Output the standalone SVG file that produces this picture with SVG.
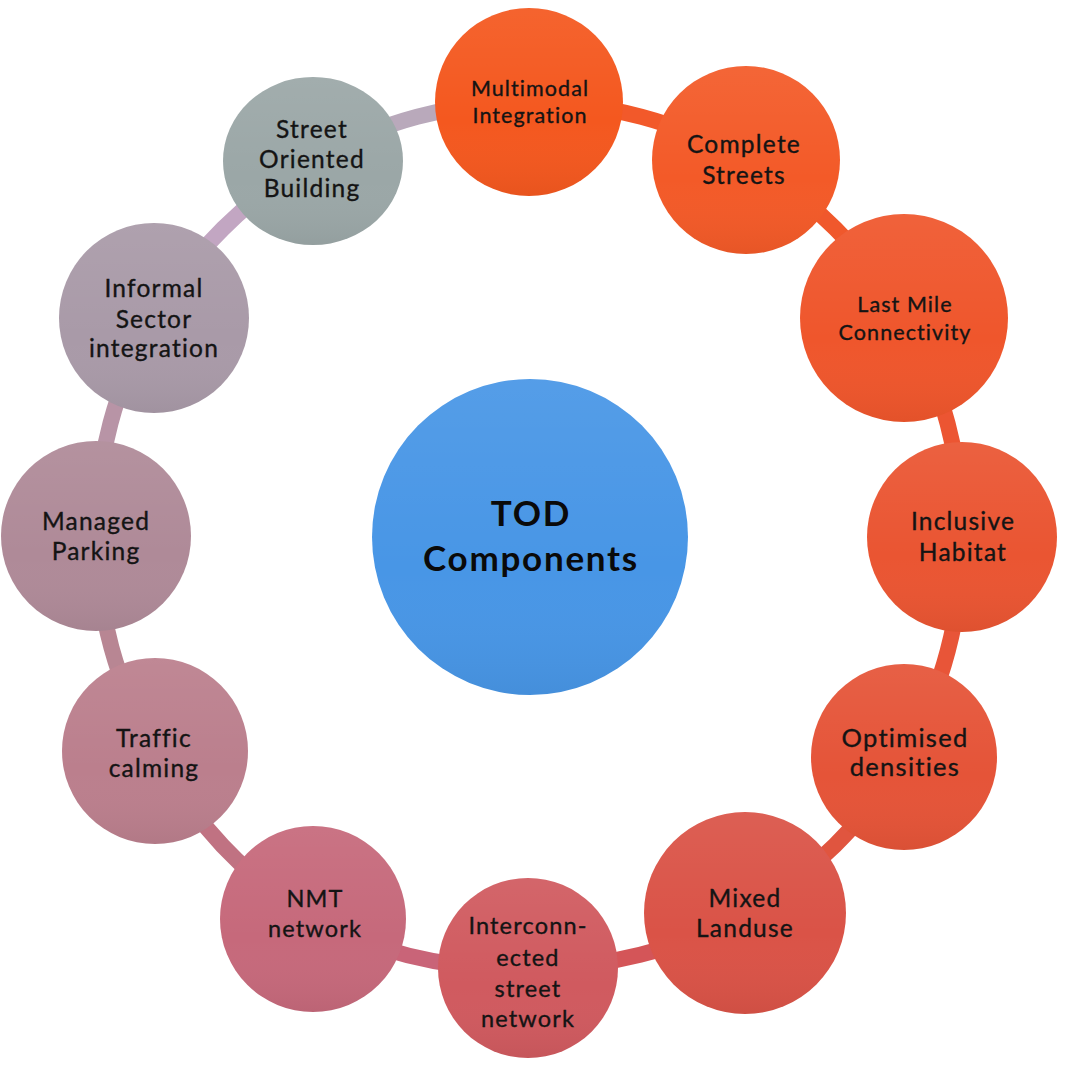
<svg xmlns="http://www.w3.org/2000/svg" width="1067" height="1067" viewBox="0 0 1067 1067">
  <defs>
    <linearGradient id="shade" x1="0" y1="0" x2="0" y2="1">
      <stop offset="0" stop-color="#ffffff" stop-opacity="0.07"/>
      <stop offset="0.6" stop-color="#ffffff" stop-opacity="0"/>
      <stop offset="1" stop-color="#000000" stop-opacity="0.05"/>
    </linearGradient>
    <style>
      .lbl { font-family: Lato, "Open Sans", "Liberation Sans", sans-serif; fill: #141414; stroke: #141414; stroke-width: 0.35; text-anchor: middle; letter-spacing: 0.05em; }
      .center { font-family: Lato, "Open Sans", "Liberation Sans", sans-serif; font-weight: bold; fill: #0a0a0a; text-anchor: middle; font-size: 35px; letter-spacing: 0.05em; }
      .link { fill: none; stroke-width: 16; stroke-linecap: butt; }
      .ov { fill: url(#shade); }
    </style>
  </defs>
  <rect width="1067" height="1067" fill="#ffffff"/>

  <g id="connectors">
    <path class="link" stroke="#F2592A" d="M529 102 A432 432 0 0 1 746 160"/>
    <path class="link" stroke="#F0582C" d="M746 160 A432 432 0 0 1 904 318"/>
    <path class="link" stroke="#EC5532" d="M904 318 A432 432 0 0 1 962 537"/>
    <path class="link" stroke="#E85538" d="M962 537 A432 432 0 0 1 904 757"/>
    <path class="link" stroke="#E0553F" d="M904 757 A432 432 0 0 1 745 913"/>
    <path class="link" stroke="#D45558" d="M745 913 A432 432 0 0 1 528 968"/>
    <path class="link" stroke="#C96478" d="M528 968 A432 432 0 0 1 313 919"/>
    <path class="link" stroke="#C07282" d="M313 919 A432 432 0 0 1 155 751"/>
    <path class="link" stroke="#B88693" d="M155 751 A432 432 0 0 1 96 536"/>
    <path class="link" stroke="#B894A6" d="M96 536 A432 432 0 0 1 154 318"/>
    <path class="link" stroke="#C2A6C2" d="M154 318 A432 432 0 0 1 313 160"/>
    <path class="link" stroke="#B9A9BB" d="M313 160 A432 432 0 0 1 529 102"/>
  </g>

  <g id="center-node">
    <circle cx="530" cy="537" r="158" fill="#4896E6"/>
    <circle cx="530" cy="537" r="158" class="ov"/>
    <text class="center" x="531" y="526">TOD</text>
    <text class="center" x="531" y="571">Components</text>
  </g>

  <g id="n-multimodal">
    <circle cx="529" cy="102" r="94" fill="#F4581F"/>
    <circle cx="529" cy="102" r="94" class="ov"/>
    <text class="lbl" font-size="21.5" x="530" y="96">Multimodal</text>
    <text class="lbl" font-size="21.5" x="530" y="123">Integration</text>
  </g>

  <g id="n-complete-streets">
    <circle cx="746" cy="160" r="94" fill="#F35A28"/>
    <circle cx="746" cy="160" r="94" class="ov"/>
    <text class="lbl" font-size="24.5" x="744" y="153">Complete</text>
    <text class="lbl" font-size="24.5" x="744" y="184">Streets</text>
  </g>

  <g id="n-last-mile">
    <circle cx="904" cy="318" r="104" fill="#EF562C"/>
    <circle cx="904" cy="318" r="104" class="ov"/>
    <text class="lbl" font-size="21.5" x="905" y="312">Last Mile</text>
    <text class="lbl" font-size="21.5" x="905" y="340">Connectivity</text>
  </g>

  <g id="n-inclusive-habitat">
    <circle cx="962" cy="537" r="95" fill="#EA5532"/>
    <circle cx="962" cy="537" r="95" class="ov"/>
    <text class="lbl" font-size="24.5" x="963" y="530">Inclusive</text>
    <text class="lbl" font-size="24.5" x="963" y="561">Habitat</text>
  </g>

  <g id="n-optimised-densities">
    <circle cx="904" cy="757" r="93" fill="#E55438"/>
    <circle cx="904" cy="757" r="93" class="ov"/>
    <text class="lbl" font-size="25.5" x="905" y="747">Optimised</text>
    <text class="lbl" font-size="25.5" x="905" y="776">densities</text>
  </g>

  <g id="n-mixed-landuse">
    <circle cx="745" cy="913" r="101" fill="#DA5347"/>
    <circle cx="745" cy="913" r="101" class="ov"/>
    <text class="lbl" font-size="24.5" x="745" y="907">Mixed</text>
    <text class="lbl" font-size="24.5" x="745" y="937">Landuse</text>
  </g>

  <g id="n-interconnected">
    <circle cx="528" cy="968" r="90" fill="#D05A5F"/>
    <circle cx="528" cy="968" r="90" class="ov"/>
    <text class="lbl" font-size="23.5" x="528" y="934">Interconn-</text>
    <text class="lbl" font-size="23.5" x="528" y="966">ected</text>
    <text class="lbl" font-size="23.5" x="528" y="997">street</text>
    <text class="lbl" font-size="23.5" x="528" y="1027">network</text>
  </g>

  <g id="n-nmt-network">
    <circle cx="313" cy="919" r="93" fill="#C6697B"/>
    <circle cx="313" cy="919" r="93" class="ov"/>
    <text class="lbl" font-size="23.5" x="315" y="907">NMT</text>
    <text class="lbl" font-size="23.5" x="315" y="937">network</text>
  </g>

  <g id="n-traffic-calming">
    <circle cx="155" cy="751" r="93" fill="#BB7F8D"/>
    <circle cx="155" cy="751" r="93" class="ov"/>
    <text class="lbl" font-size="24.5" x="154" y="747">Traffic</text>
    <text class="lbl" font-size="24.5" x="154" y="777">calming</text>
  </g>

  <g id="n-managed-parking">
    <circle cx="96" cy="536" r="95" fill="#AF8A98"/>
    <circle cx="96" cy="536" r="95" class="ov"/>
    <text class="lbl" font-size="24.5" x="96" y="530">Managed</text>
    <text class="lbl" font-size="24.5" x="96" y="560">Parking</text>
  </g>

  <g id="n-informal-sector">
    <circle cx="154" cy="318" r="95" fill="#A99AA8"/>
    <circle cx="154" cy="318" r="95" class="ov"/>
    <text class="lbl" font-size="24.5" x="154" y="297">Informal</text>
    <text class="lbl" font-size="24.5" x="154" y="328">Sector</text>
    <text class="lbl" font-size="24.5" x="154" y="357">integration</text>
  </g>

  <g id="n-street-oriented">
    <ellipse cx="313" cy="161" rx="90" ry="84" fill="#9BA7A7"/>
    <ellipse cx="313" cy="161" rx="90" ry="84" class="ov"/>
    <text class="lbl" font-size="24.5" x="312" y="138">Street</text>
    <text class="lbl" font-size="24.5" x="312" y="168">Oriented</text>
    <text class="lbl" font-size="24.5" x="312" y="197">Building</text>
  </g>
</svg>
